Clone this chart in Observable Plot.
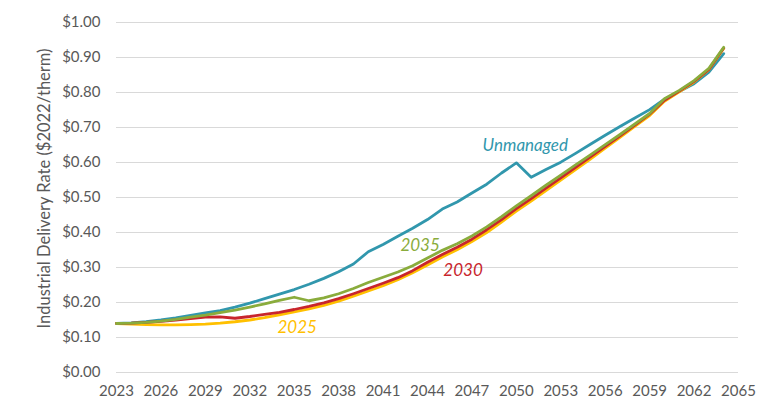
<!DOCTYPE html>
<html>
<head>
<meta charset="utf-8">
<script src="https://cdn.jsdelivr.net/npm/d3@7"></script>
<script src="https://cdn.jsdelivr.net/npm/@observablehq/plot@0.6"></script>
<style>
  html, body { margin: 0; padding: 0; background: #fff; }
  #chart { width: 784px; height: 404px; }
  svg { font-family: Lato, "Open Sans", sans-serif; }
</style>
</head>
<body>
<div id="chart"></div>
<script>
const years = d3.range(2023, 2065);
const unmanaged = [0.140,0.142,0.145,0.150,0.156,0.163,0.170,0.177,0.187,0.198,0.211,0.224,0.237,0.252,0.269,0.288,0.310,0.345,0.366,0.389,0.412,0.437,0.467,0.487,0.513,0.538,0.570,0.599,0.558,0.580,0.601,0.626,0.652,0.678,0.703,0.727,0.751,0.781,0.803,0.825,0.858,0.911];
const s2035 = [0.140,0.141,0.143,0.147,0.152,0.158,0.164,0.171,0.178,0.187,0.196,0.206,0.215,0.205,0.213,0.225,0.240,0.257,0.272,0.287,0.305,0.327,0.349,0.368,0.390,0.416,0.445,0.476,0.505,0.535,0.564,0.593,0.622,0.651,0.680,0.710,0.740,0.782,0.806,0.834,0.869,0.929];
const s2030 = [0.140,0.141,0.143,0.146,0.150,0.154,0.158,0.159,0.155,0.160,0.166,0.172,0.180,0.189,0.199,0.211,0.225,0.240,0.255,0.271,0.291,0.315,0.337,0.358,0.381,0.408,0.437,0.468,0.497,0.527,0.556,0.586,0.616,0.646,0.676,0.707,0.738,0.778,0.804,0.832,0.866,0.927];
const s2025 = [0.140,0.138,0.137,0.136,0.136,0.137,0.138,0.141,0.145,0.150,0.157,0.165,0.173,0.182,0.192,0.204,0.218,0.233,0.248,0.265,0.285,0.307,0.330,0.351,0.374,0.400,0.430,0.461,0.490,0.520,0.550,0.580,0.610,0.641,0.672,0.703,0.734,0.775,0.802,0.830,0.865,0.926];

const seriesNames = ["Unmanaged", "2025", "2030", "2035"];
const seriesColors = ["#3197ad", "#ffc000", "#c8252c", "#8aac3c"];
const seriesValues = [unmanaged, s2025, s2030, s2035];

const xTicks = d3.range(2023, 2066, 3);
const yTicks = d3.range(0, 1.0001, 0.1);
const yTitle = "Industrial Delivery Rate ($2022/therm)";

// label anchors (year, value) for series labels
const labelNames = ["Unmanaged", "2035", "2030", "2025"];
const labelYears = [2050.6, 2043.5, 2046.4, 2035.2];
const labelValues = [0.649, 0.363, 0.291, 0.129];

const rows = [];
seriesNames.forEach((name, i) => {
  years.forEach((yr, j) => rows.push({series: name, year: yr, value: seriesValues[i][j]}));
});
const labels = labelNames.map((n, i) => ({series: n, year: labelYears[i], value: labelValues[i]}));
const colorOf = Object.fromEntries(seriesNames.map((n, i) => [n, seriesColors[i]]));

const chart = Plot.plot({
  width: 784,
  height: 404,
  marginLeft: 116,
  marginRight: 46,
  marginTop: 22,
  marginBottom: 32,
  style: {fontFamily: "Lato, 'Open Sans', sans-serif", fontSize: "15px", color: "#595959", background: "#fff"},
  x: {domain: [2023, 2065], ticks: xTicks, tickFormat: d => String(d), tickSize: 0, tickPadding: 13, label: null},
  y: {domain: [0, 1], ticks: yTicks, tickFormat: d => "$" + d.toFixed(2), tickSize: 0, tickPadding: 16, label: null},
  marks: [
    Plot.ruleY(yTicks, {stroke: "#d9d9d9", strokeWidth: 1.2}),
    ...seriesNames.map(name => Plot.line(rows.filter(r => r.series === name), {
      x: "year", y: "value", stroke: colorOf[name], strokeWidth: 2.8, strokeLinejoin: "round", curve: "linear"
    })),
    Plot.text(labels, {x: "year", y: "value", text: "series", fill: d => colorOf[d.series],
      fontStyle: "italic", fontSize: 17, textAnchor: "middle"}),
    Plot.text([yTitle], {frameAnchor: "left", rotate: -90, dx: -72, dy: -9, fontSize: 16.5,
      fill: "#595959", textAnchor: "middle"})
  ]
});
document.getElementById("chart").appendChild(chart);
</script>
</body>
</html>
